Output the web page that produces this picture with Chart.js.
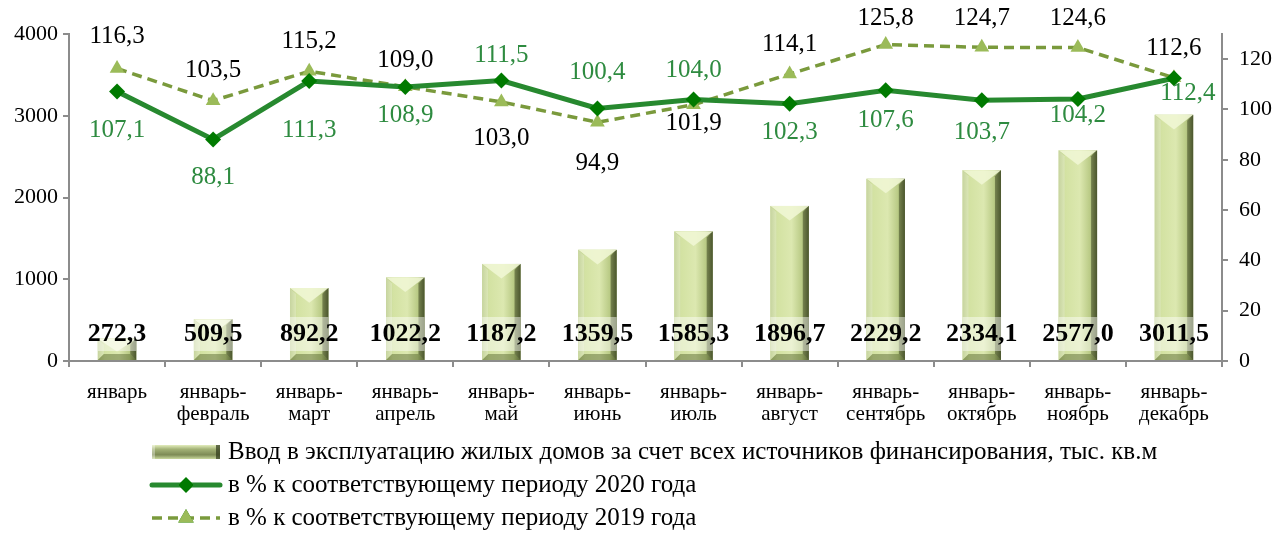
<!DOCTYPE html>
<html lang="ru">
<head>
<meta charset="utf-8">
<title>Ввод в эксплуатацию жилых домов</title>
<script src="https://cdn.jsdelivr.net/npm/chart.js@4.4.1/dist/chart.umd.min.js"></script>
<style>
  html, body { margin: 0; padding: 0; background: #fff; }
  #wrap { width: 1283px; height: 533px; }
</style>
</head>
<body>
<div id="wrap"><canvas id="chart" width="1283" height="533"></canvas></div>
<script>
const categories = [
  ["январь"],
  ["январь-", "февраль"],
  ["январь-", "март"],
  ["январь-", "апрель"],
  ["январь-", "май"],
  ["январь-", "июнь"],
  ["январь-", "июль"],
  ["январь-", "август"],
  ["январь-", "сентябрь"],
  ["январь-", "октябрь"],
  ["январь-", "ноябрь"],
  ["январь-", "декабрь"],
];
const housing = [272.3, 509.5, 892.2, 1022.2, 1187.2, 1359.5, 1585.3, 1896.7, 2229.2, 2334.1, 2577.0, 3011.5];
const pct2020 = [107.1, 88.1, 111.3, 108.9, 111.5, 100.4, 104.0, 102.3, 107.6, 103.7, 104.2, 112.4];
const pct2019 = [116.3, 103.5, 115.2, 109.0, 103.0, 94.9, 101.9, 114.1, 125.8, 124.7, 124.6, 112.6];
const leftTicks = [0, 1000, 2000, 3000, 4000];
const rightTicks = [0, 20, 40, 60, 80, 100, 120];
const legendLabels = [
  "Ввод в эксплуатацию жилых домов за счет всех источников финансирования, тыс. кв.м",
  "в % к соответствующему периоду 2020 года",
  "в % к соответствующему периоду 2019 года",
];

// where the value labels sit relative to their points (px)
const labelDy2020 = [39, 38, 49, 28, -25, -36, -29, 29, 30, 32, 17, 15];
const labelDy2019 = [-32, -30, -30, -26, 37, 41, 19, -30, -26, -29, -29, -29];
const labelDx2020 = [0, 0, 0, 0, 0, 0, 0, 0, 0, 0, 0, 14];

const SERIF = "'Liberation Serif', 'Times New Roman', serif";
const GREEN_LINE = "#27892f";
const GREEN_MARK = "#007a00";
const GREEN_TEXT = "#2e8b40";
const OLIVE_LINE = "#7a9a3c";
const OLIVE_MARK = "#9bbb59";
const AXIS = "#8c8c8c";

const fmt = (v) => v.toFixed(1).replace(".", ",");

function paintBar(ctx, l, r, t, b) {
  const w = r - l;
  const h = b - t;
  if (h <= 0) return;
  const g = ctx.createLinearGradient(l, 0, r, 0);
  g.addColorStop(0, "#b4c67f");
  g.addColorStop(0.18, "#d3e2a2");
  g.addColorStop(0.55, "#dce8b0");
  g.addColorStop(0.82, "#b9ca85");
  g.addColorStop(1, "#5f6c40");
  ctx.fillStyle = g;
  ctx.fillRect(l, t, w, h);

  const bv = Math.min(6, h / 3);
  // top facet
  const tip = Math.min(w * 0.38, h * 0.6);
  ctx.fillStyle = "rgba(240, 246, 212, 0.9)";
  ctx.beginPath();
  ctx.moveTo(l, t);
  ctx.lineTo(r, t);
  ctx.lineTo(l + w / 2, t + tip);
  ctx.closePath();
  ctx.fill();
  // left facet
  ctx.fillStyle = "rgba(255, 255, 255, 0.25)";
  ctx.beginPath();
  ctx.moveTo(l, t);
  ctx.lineTo(l + bv, t + bv);
  ctx.lineTo(l + bv, b - bv);
  ctx.lineTo(l, b);
  ctx.closePath();
  ctx.fill();
  // right facet
  ctx.fillStyle = "rgba(50, 60, 25, 0.45)";
  ctx.beginPath();
  ctx.moveTo(r, t);
  ctx.lineTo(r - bv, t + bv);
  ctx.lineTo(r - bv, b - bv);
  ctx.lineTo(r, b);
  ctx.closePath();
  ctx.fill();
  // bottom facet
  ctx.fillStyle = "rgba(80, 95, 40, 0.45)";
  ctx.beginPath();
  ctx.moveTo(l, b);
  ctx.lineTo(l + bv, b - bv);
  ctx.lineTo(r - bv, b - bv);
  ctx.lineTo(r, b);
  ctx.closePath();
  ctx.fill();
}

// the legend swatch is a flat bevelled strip, darker olive in the middle
function paintSwatch(ctx, l, r, t, b) {
  const g = ctx.createLinearGradient(0, t, 0, b);
  g.addColorStop(0, "#e3edbd");
  g.addColorStop(0.3, "#a3b276");
  g.addColorStop(0.7, "#7d8b55");
  g.addColorStop(1, "#c9d89c");
  ctx.fillStyle = g;
  ctx.fillRect(l, t, r - l, b - t);
  ctx.fillStyle = "rgba(45, 55, 25, 0.7)";
  ctx.fillRect(r - 4, t, 4, b - t);
  ctx.fillStyle = "rgba(255, 255, 255, 0.35)";
  ctx.fillRect(l, t, 3, b - t);
}

const barShading = {
  id: "barShading",
  afterDatasetDraw(chart, args) {
    if (args.index !== 0) return;
    const ctx = chart.ctx;
    ctx.save();
    args.meta.data.forEach((bar) => {
      const half = bar.width / 2;
      paintBar(ctx, bar.x - half, bar.x + half, bar.y, bar.base);
    });
    ctx.restore();
  },
};

const valueLabels = {
  id: "valueLabels",
  afterDatasetsDraw(chart) {
    const ctx = chart.ctx;
    ctx.save();
    ctx.textAlign = "center";
    ctx.textBaseline = "middle";

    // housing figures, bold, just above the axis
    const base = chart.scales.y.getPixelForValue(0);
    ctx.font = "bold 26px " + SERIF;
    chart.getDatasetMeta(0).data.forEach((bar, i) => {
      const text = fmt(housing[i]);
      const y = base - 27;
      const half = bar.width / 2;
      if (bar.y < y + 17) {
        const top = Math.max(bar.y, y - 17);
        ctx.fillStyle = "rgba(255, 255, 255, 0.45)";
        ctx.fillRect(bar.x - half, top, bar.width, y + 17 - top);
      }
      ctx.fillStyle = "#000";
      ctx.fillText(text, bar.x, y);
    });

    ctx.font = "25px " + SERIF;
    ctx.fillStyle = GREEN_TEXT;
    chart.getDatasetMeta(1).data.forEach((pt, i) => {
      ctx.fillText(fmt(pct2020[i]), pt.x + labelDx2020[i], pt.y + labelDy2020[i]);
    });
    ctx.fillStyle = "#000";
    chart.getDatasetMeta(2).data.forEach((pt, i) => {
      ctx.fillText(fmt(pct2019[i]), pt.x, pt.y + labelDy2019[i]);
    });
    ctx.restore();
  },
};

const bottomLegend = {
  id: "bottomLegend",
  afterDraw(chart) {
    const ctx = chart.ctx;
    const x0 = 152, x1 = 220, tx = 228;
    const rows = [452, 485, 518];
    ctx.save();

    paintSwatch(ctx, x0, x1, rows[0] - 7, rows[0] + 7);

    ctx.strokeStyle = GREEN_LINE;
    ctx.lineWidth = 5;
    ctx.lineCap = "round";
    ctx.beginPath();
    ctx.moveTo(x0, rows[1]);
    ctx.lineTo(x1, rows[1]);
    ctx.stroke();
    Chart.helpers.drawPoint(ctx, { pointStyle: "rectRot", radius: 8, borderWidth: 0 }, (x0 + x1) / 2, rows[1]);
    ctx.fillStyle = GREEN_MARK;
    ctx.fill();

    ctx.strokeStyle = OLIVE_LINE;
    ctx.lineWidth = 3.5;
    ctx.lineCap = "butt";
    ctx.setLineDash([10, 6]);
    ctx.beginPath();
    ctx.moveTo(x0, rows[2]);
    ctx.lineTo(x1, rows[2]);
    ctx.stroke();
    ctx.setLineDash([]);
    Chart.helpers.drawPoint(ctx, { pointStyle: "triangle", radius: 9, borderWidth: 0 }, (x0 + x1) / 2, rows[2]);
    ctx.fillStyle = OLIVE_MARK;
    ctx.fill();

    ctx.font = "25px " + SERIF;
    ctx.fillStyle = "#000";
    ctx.textAlign = "left";
    ctx.textBaseline = "middle";
    legendLabels.forEach((txt, i) => ctx.fillText(txt, tx, rows[i]));
    ctx.restore();
  },
};

const ctx = document.getElementById("chart").getContext("2d");

new Chart(ctx, {
  data: {
    labels: categories,
    datasets: [
      {
        type: "bar",
        label: legendLabels[0],
        data: housing,
        yAxisID: "y",
        backgroundColor: "#d3e2a2",
        barPercentage: 0.4,
        categoryPercentage: 1,
        order: 3,
      },
      {
        type: "line",
        label: legendLabels[1],
        data: pct2020,
        yAxisID: "y1",
        borderColor: GREEN_LINE,
        borderWidth: 5,
        pointStyle: "rectRot",
        pointRadius: 8,
        pointBackgroundColor: GREEN_MARK,
        pointBorderWidth: 0,
        tension: 0,
        order: 1,
      },
      {
        type: "line",
        label: legendLabels[2],
        data: pct2019,
        yAxisID: "y1",
        borderColor: OLIVE_LINE,
        borderWidth: 3.5,
        borderDash: [10, 6],
        pointStyle: "triangle",
        pointRadius: 8.5,
        pointBackgroundColor: OLIVE_MARK,
        pointBorderWidth: 0,
        tension: 0,
        order: 2,
      },
    ],
  },
  options: {
    responsive: false,
    animation: false,
    devicePixelRatio: 1,
    layout: {
      padding: { top: 34, bottom: 97, left: 0, right: 0 },
    },
    plugins: {
      legend: { display: false },
      tooltip: { enabled: false },
    },
    scales: {
      x: {
        offset: true,
        ticks: {
          color: "#000",
          font: { size: 21, family: SERIF, lineHeight: 1.05 },
          maxRotation: 0,
          autoSkip: false,
          padding: 14,
        },
        grid: {
          offset: true,
          drawOnChartArea: false,
          drawTicks: true,
          tickLength: 6,
          color: AXIS,
          lineWidth: 2,
        },
        border: { display: true, color: AXIS, width: 2 },
        afterFit: (scale) => { scale.height = 75; },
      },
      y: {
        position: "left",
        min: 0,
        max: 4000,
        afterBuildTicks: (axis) => { axis.ticks = leftTicks.map((v) => ({ value: v })); },
        ticks: {
          color: "#000",
          font: { size: 22, family: SERIF },
          padding: 5,
          callback: (v) => String(v),
        },
        grid: {
          drawOnChartArea: false,
          drawTicks: true,
          tickLength: 6,
          color: AXIS,
          lineWidth: 2,
        },
        border: { display: true, color: AXIS, width: 2 },
        afterFit: (scale) => { scale.width = 69; },
      },
      y1: {
        position: "right",
        min: 0,
        max: 130,
        afterBuildTicks: (axis) => { axis.ticks = rightTicks.map((v) => ({ value: v })); },
        ticks: {
          color: "#000",
          font: { size: 22, family: SERIF },
          padding: 11,
          callback: (v) => String(v),
        },
        grid: {
          drawOnChartArea: false,
          drawTicks: true,
          tickLength: 6,
          color: AXIS,
          lineWidth: 2,
        },
        border: { display: true, color: AXIS, width: 2 },
        afterFit: (scale) => { scale.width = 61; },
      },
    },
  },
  plugins: [barShading, valueLabels, bottomLegend],
});
</script>
</body>
</html>
